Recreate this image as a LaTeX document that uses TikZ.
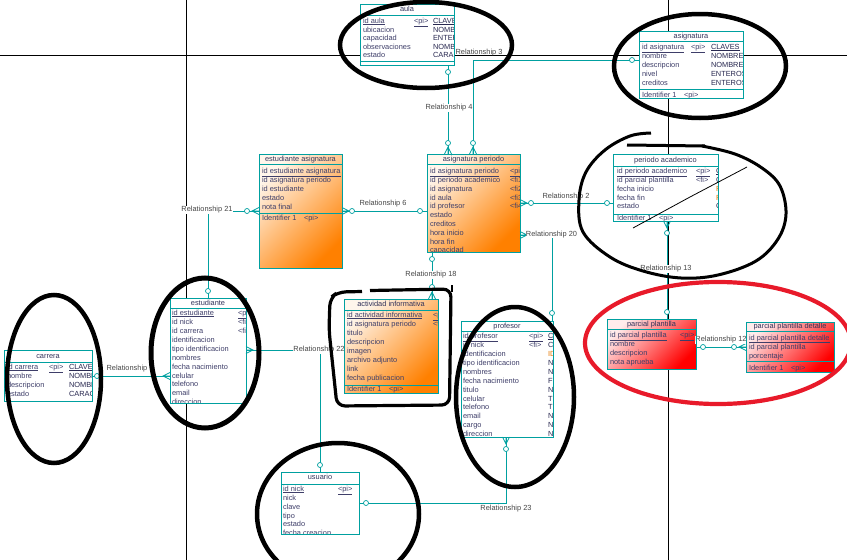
\documentclass[tikz,border=0pt]{standalone}
\usepackage{fontspec}
\newfontfamily\erfont[WordSpace=2]{Liberation Sans}
\newfontfamily\relfont{Liberation Sans}
\usetikzlibrary{calc}

\definecolor{tealline}{RGB}{0,160,160}
\definecolor{nametext}{RGB}{62,62,105}
\definecolor{typetext}{RGB}{40,40,80}
\definecolor{headtext}{RGB}{50,50,90}
\definecolor{labeltext}{RGB}{70,70,70}
\definecolor{fdate}{RGB}{230,120,0}
\definecolor{orangeA}{RGB}{255,246,236}
\definecolor{orangeB}{RGB}{255,128,0}
\definecolor{redA}{RGB}{255,236,236}
\definecolor{redB}{RGB}{255,0,0}
\definecolor{inkred}{RGB}{232,26,42}

\newcommand\erfs{\fontsize{7.4}{8.5}\selectfont}
\newcounter{tn}
% primary identifier: text with a heavy rule under it
\newcommand\pkey[1]{\vtop{\hbox{#1}\kern0.7pt\hrule height 0.9pt}}
\newcommand\erow[4][]{\stepcounter{tn}\node[cell,#1] (r\arabic{tn}) at (#2,#3) {#4};}
\newcommand\ehead[3]{\stepcounter{tn}\node[head] (h\arabic{tn}) at (#1,#2) {#3};}
\newcommand\optat[2]{\stepcounter{tn}\node[optc] (o\arabic{tn}) at (#1,#2) {};}
% crow's feet, toes on the entity edge
\newcommand\crowN[2]{\draw[rel] (#1-3.5,#2) -- (#1,#2-7) -- (#1+3.5,#2) (#1,#2-7) -- (#1,#2);}
\newcommand\crowS[2]{\draw[rel] (#1-3.5,#2) -- (#1,#2+7) -- (#1+3.5,#2) (#1,#2+7) -- (#1,#2);}
\newcommand\crowW[2]{\draw[rel] (#1,#2-3.5) -- (#1-7,#2) -- (#1,#2+3.5) (#1-7,#2) -- (#1,#2);}
\newcommand\crowE[2]{\draw[rel] (#1,#2-3.5) -- (#1+7,#2) -- (#1,#2+3.5) (#1+7,#2) -- (#1,#2);}
\newcommand\edge[1]{\draw[boxedge] (#1.north west) rectangle (#1.south east);}
\newcommand\sepline[2]{\draw[boxedge] (#1.west |- 0,#2) -- (#1.east |- 0,#2);}

\tikzset{
  boxfill/.style={anchor=north west, inner sep=0pt, outer sep=0pt, draw=none},
  boxedge/.style={draw=tealline, line width=0.9pt},
  cell/.style={anchor=base west, inner sep=0pt, outer sep=0pt, font=\erfont\erfs, text=nametext},
  typ/.style={text=typetext},
  datetyp/.style={text=fdate},
  head/.style={anchor=base, inner sep=0pt, font=\erfont\erfs, text=headtext},
  rel/.style={draw=tealline, line width=0.8pt},
  optc/.style={circle, draw=tealline, fill=white, line width=0.7pt, inner sep=0pt, minimum size=5pt},
  lab/.style={font=\relfont\erfs, text=labeltext, fill=white, inner sep=0.4pt},
  guide/.style={draw=black, line width=0.9pt},
  ink/.style={draw=black, line width=4.5pt},
  orangebox/.style={top color=orangeA, bottom color=orangeB, shading angle=45},
  redbox/.style={top color=redA, bottom color=redB, shading angle=45},
}

\begin{document}
\begin{tikzpicture}[x=1pt,y=-1pt]
\useasboundingbox (0,0) rectangle (847,560);
\clip (0,0) rectangle (847,560);
\fill[white] (0,0) rectangle (847,560);

% ---------- guide lines ----------
\draw[guide] (0,55.5) -- (847,55.5);
\draw[guide] (186.5,0) -- (186.5,560);
\draw[guide] (668,0) -- (668,560);

% ---------- relationship names placed under the boxes ----------
\node[lab, fill=none] (l3) at (479,52.5) {Relationship 3};

% ---------- entity boxes ----------
\node[boxfill, fill=white, minimum width=94pt, minimum height=61pt] (aula) at (360,4) {};
\node[boxfill, fill=white, minimum width=104pt, minimum height=67pt] (asig) at (639,31) {};
\node[boxfill, orangebox, minimum width=83pt, minimum height=114pt] (estasig) at (259,154) {};
\node[boxfill, orangebox, minimum width=93pt, minimum height=98pt] (asigper) at (427,154) {};
\node[boxfill, fill=white, minimum width=105pt, minimum height=67pt] (peracad) at (613,154) {};
\node[boxfill, fill=white, minimum width=76pt, minimum height=105pt] (est) at (170,298) {};
\node[boxfill, fill=white, minimum width=88pt, minimum height=51pt] (carr) at (4,350) {};
\node[boxfill, orangebox, minimum width=94pt, minimum height=94pt] (act) at (344,299) {};
\node[boxfill, fill=white, minimum width=92pt, minimum height=116pt] (prof) at (461,321) {};
\node[boxfill, redbox, minimum width=89pt, minimum height=50pt] (pp) at (607,319) {};
\node[boxfill, redbox, minimum width=88pt, minimum height=50pt] (ppd) at (746,322) {};
\node[boxfill, fill=white, minimum width=78pt, minimum height=62pt] (usu) at (281,472) {};

% ---------- relationships ----------
% Relationship 4
\draw[rel] (aula.south -| 448,0) -- (asigper.north -| 448,0);
\crowN{448}{154}
% Relationship 3
\draw[rel] (asig.west |- 0,60) -- (473,60) -- (asigper.north -| 473,0);
\crowN{473}{154}
% Relationship 6
\draw[rel] (estasig.east |- 0,211) -- (asigper.west |- 0,211);
\crowE{342}{211}
% Relationship 21
\draw[rel] (estasig.west |- 0,211) -- (208,211) -- (est.north -| 208,0);
\crowW{259}{211}
% Relationship 2
\draw[rel] (asigper.east |- 0,203) -- (peracad.west |- 0,203);
\crowE{520}{203}
% Relationship 20
\draw[rel] (asigper.east |- 0,235) -- (552,235) -- (prof.north -| 552,0);
\crowE{520}{235}
% Relationship 18
\draw[rel] (asigper.south -| 432,0) -- (act.north -| 432,0);
\crowN{432}{299}
% Relationship 13
\draw[rel] (peracad.south -| 667,0) -- (pp.north -| 667,0);
\crowS{667}{221}
% Relationship 12
\draw[rel] (pp.east |- 0,347) -- (ppd.west |- 0,347);
\crowW{746}{347}
% Relationship 1
\draw[rel] (carr.east |- 0,376) -- (est.west |- 0,376);
\crowW{170}{376}
% Relationship 22
\draw[rel] (est.east |- 0,350) -- (320,350) -- (usu.north -| 320,0);
\crowE{246}{350}
% Relationship 23
\draw[rel] (prof.south -| 506,0) -- (506,503) -- (usu.east |- 0,503);
\crowS{506}{437}

% relationship names
\node[lab] (l4) at (449,108) {Relationship 4};
\node[lab] (l6) at (383,203.5) {Relationship 6};
\node[lab] (l21) at (207,210) {Relationship 21};
\node[lab] (l2) at (566,197) {Relationship 2};
\node[lab] (l20) at (551.5,234.5) {Relationship 20};
\node[lab] (l18) at (431,275) {Relationship 18};
\node[lab] (l13) at (666,269) {Relationship 13};
\node[lab] (l12) at (721,340) {Relationship 12};
\node[lab] (l1) at (130,368.5) {Relationship 1};
\node[lab] (l22) at (319,350) {Relationship 22};
\node[lab] (l23) at (506,509) {Relationship 23};

% optionality circles
\optat{448}{72}\optat{448}{143}
\optat{632}{60}\optat{473}{143}
\optat{352}{211}\optat{420}{211}
\optat{247}{211}\optat{208}{291}
\optat{531}{203}\optat{607}{203}
\optat{552}{313}
\optat{432}{259}\optat{432}{287}
\optat{667}{233}\optat{667}{312}
\optat{703}{347}\optat{734}{347}
\optat{97}{376}
\optat{320}{465}
\optat{506}{449}\optat{366}{503}

% ---------- entity contents ----------
% aula
\node[boxfill, fill=white, minimum width=94pt, minimum height=61pt] (aulaB) at (360,4) {};
\begin{scope}
\clip (aula.north west) rectangle (aula.south east);
\ehead{407}{11.5}{aula}
\erow{363}{23.4}{\pkey{id aula}}\erow{414}{23.4}{\pkey{<pi>}}\erow[typ]{433}{23.4}{\pkey{CLAVE}}
\erow{363}{32.0}{ubicacion}\erow[typ]{433}{32.0}{NOMB}
\erow{363}{40.6}{capacidad}\erow[typ]{433}{40.6}{ENTER}
\erow{363}{49.2}{observaciones}\erow[typ]{433}{49.2}{NOMB}
\erow{363}{57.8}{estado}\erow[typ]{433}{57.8}{CARA}
\end{scope}
\edge{aula}\sepline{aula}{15}\sepline{aula}{61}

% asignatura
\begin{scope}
\clip (asig.north west) rectangle (asig.south east);
\ehead{691}{38.7}{asignatura}
\erow{642}{49.5}{\pkey{id asignatura}}\erow{691}{49.5}{\pkey{<pi>}}\erow[typ]{711}{49.5}{\pkey{CLAVES}}
\erow{642}{58.4}{nombre}\erow[typ]{711}{58.4}{NOMBRES}
\erow{642}{67.3}{descripcion}\erow[typ]{711}{67.3}{NOMBRES}
\erow{642}{76.2}{nivel}\erow[typ]{711}{76.2}{ENTEROS}
\erow{642}{85.1}{creditos}\erow[typ]{711}{85.1}{ENTEROS}
\erow{642}{97.4}{Identifier 1}\erow{684}{97.4}{<pi>}
\end{scope}
\edge{asig}\sepline{asig}{41}\sepline{asig}{89}

% estudiante asignatura
\begin{scope}
\clip (estasig.north west) rectangle (estasig.south east);
\ehead{300.5}{161.7}{estudiante asignatura}
\erow{262}{173.7}{\pkey{id estudiante asignatura}}
\erow{262}{182.6}{id asignatura periodo}
\erow{262}{191.5}{id estudiante}
\erow{262}{200.4}{estado}
\erow{262}{209.3}{nota final}
\erow{262}{220.7}{Identifier 1}\erow{304}{220.7}{<pi>}
\end{scope}
\edge{estasig}\sepline{estasig}{164}\sepline{estasig}{213}

% asignatura periodo
\begin{scope}
\clip (asigper.north west) rectangle (asigper.south east);
\ehead{473.5}{161.7}{asignatura periodo}
\erow{430}{173.7}{\pkey{id asignatura periodo}}\erow{510}{173.7}{\pkey{<pi>}}
\erow{430}{182.5}{id periodo academico}\erow{510}{182.5}{<fi1>}
\erow{430}{191.3}{id asignatura}\erow{510}{191.3}{<fi2>}
\erow{430}{200.1}{id aula}\erow{510}{200.1}{<fi3>}
\erow{430}{208.9}{id profesor}\erow{510}{208.9}{<fi4>}
\erow{430}{217.7}{estado}
\erow{430}{226.5}{creditos}
\erow{430}{235.3}{hora inicio}
\erow{430}{244.1}{hora fin}
\erow{430}{252.9}{capacidad}
\end{scope}
\edge{asigper}\sepline{asigper}{164}

% periodo academico
\begin{scope}
\clip (peracad.north west) rectangle (peracad.south east);
\ehead{665.5}{162.7}{periodo academico}
\erow{617}{173.7}{\pkey{id periodo academico}}\erow{696}{173.7}{\pkey{<pi>}}\erow[typ]{716}{173.7}{\pkey{CLAVES}}
\erow{617}{182.5}{id parcial plantilla}\erow{696}{182.5}{<fi>}\erow[typ]{716}{182.5}{CLAVES}
\erow{617}{191.2}{fecha inicio}\erow[datetyp]{716}{191.2}{FECHA}
\erow{617}{200.0}{fecha fin}\erow[datetyp]{716}{200.0}{FECHA}
\erow{617}{208.7}{estado}\erow[typ]{716}{208.7}{CARACTER}
\erow{617}{220.7}{Identifier 1}\erow{659}{220.7}{<pi>}
\end{scope}
\edge{peracad}\sepline{peracad}{166}\sepline{peracad}{214}

% estudiante
\begin{scope}
\clip (est.north west) rectangle (est.south east);
\ehead{208}{305.7}{estudiante}
\erow{172}{315.7}{\pkey{id estudiante}}\erow{238}{315.7}{\pkey{<pi>}}
\erow{172}{324.6}{id nick}\erow{238}{324.6}{<fi1>}
\erow{172}{333.5}{id carrera}\erow{238}{333.5}{<fi2>}
\erow{172}{342.4}{identificacion}
\erow{172}{351.3}{tipo identificacion}
\erow{172}{360.2}{nombres}
\erow{172}{369.1}{fecha nacimiento}
\erow{172}{378.0}{celular}
\erow{172}{386.9}{telefono}
\erow{172}{395.8}{email}
\erow{172}{404.7}{direccion}
\end{scope}
\edge{est}\sepline{est}{308}

% carrera
\begin{scope}
\clip (carr.north west) rectangle (carr.south east);
\ehead{48}{358.7}{carrera}
\erow{7}{369.7}{\pkey{id carrera}}\erow{49}{369.7}{\pkey{<pi>}}\erow[typ]{69}{369.7}{\pkey{CLAVES}}
\erow{7}{378.6}{nombre}\erow[typ]{69}{378.6}{NOMBRES}
\erow{7}{387.5}{descripcion}\erow[typ]{69}{387.5}{NOMBRES}
\erow{7}{396.4}{estado}\erow[typ]{69}{396.4}{CARACTER}
\end{scope}
\edge{carr}\sepline{carr}{362}

% actividad informativa
\begin{scope}
\clip (act.north west) rectangle (act.south east);
\ehead{391}{306.7}{actividad informativa}
\erow{347}{317.7}{\pkey{id actividad informativa}}\erow{433}{317.7}{\pkey{<pi>}}
\erow{347}{326.6}{id asignatura periodo}\erow{433}{326.6}{<fi>}
\erow{347}{335.5}{titulo}
\erow{347}{344.4}{descripcion}
\erow{347}{353.3}{imagen}
\erow{347}{362.2}{archivo adjunto}
\erow{347}{371.1}{link}
\erow{347}{380.0}{fecha publicacion}
\erow{347}{391.7}{Identifier 1}\erow{389}{391.7}{<pi>}
\end{scope}
\edge{act}\sepline{act}{310}\sepline{act}{385}

% profesor
\begin{scope}
\clip (prof.north west) rectangle (prof.south east);
\ehead{507}{328.7}{profesor}
\erow{463}{338.7}{\pkey{id profesor}}\erow{529}{338.7}{\pkey{<pi>}}\erow[typ]{548}{338.7}{\pkey{CLAVES}}
\erow{463}{347.6}{id nick}\erow{529}{347.6}{<fi>}\erow[typ]{548}{347.6}{CLAVES}
\erow{463}{356.5}{identificacion}\erow[datetyp]{548}{356.5}{IDENTIFICACION}
\erow{463}{365.4}{tipo identificacion}\erow[typ]{548}{365.4}{NOMBRES}
\erow{463}{374.3}{nombres}\erow[typ]{548}{374.3}{NOMBRES}
\erow{463}{383.2}{fecha nacimiento}\erow[typ]{548}{383.2}{FECHA}
\erow{463}{392.1}{titulo}\erow[typ]{548}{392.1}{NOMBRES}
\erow{463}{401.0}{celular}\erow[typ]{548}{401.0}{TELEFONO}
\erow{463}{409.9}{telefono}\erow[typ]{548}{409.9}{TELEFONO}
\erow{463}{418.8}{email}\erow[typ]{548}{418.8}{NOMBRES}
\erow{463}{427.7}{cargo}\erow[typ]{548}{427.7}{NOMBRES}
\erow{463}{436.6}{direccion}\erow[typ]{548}{436.6}{NOMBRES}
\end{scope}
\edge{prof}\sepline{prof}{331}

% parcial plantilla
\begin{scope}
\clip (pp.north west) rectangle (pp.south east);
\ehead{651.5}{326.7}{parcial plantilla}
\erow{610}{337.7}{\pkey{id parcial plantilla}}\erow{680}{337.7}{\pkey{<pi>}}
\erow{610}{346.5}{nombre}
\erow{610}{355.3}{descripcion}
\erow{610}{364.1}{nota aprueba}
\end{scope}
\edge{pp}\sepline{pp}{329}

% parcial plantilla detalle
\begin{scope}
\clip (ppd.north west) rectangle (ppd.south east);
\ehead{790}{328.5}{parcial plantilla detalle}
\erow{749}{340.0}{\pkey{id parcial plantilla detalle}}
\erow{749}{349.4}{id parcial plantilla}
\erow{749}{358.7}{porcentaje}
\erow{749}{370.0}{Identifier 1}\erow{791}{370.0}{<pi>}
\end{scope}
\edge{ppd}\sepline{ppd}{331.7}\sepline{ppd}{361.7}

% usuario
\begin{scope}
\clip (usu.north west) rectangle (usu.south east);
\ehead{320}{479.7}{usuario}
\erow{283}{491.7}{\pkey{id nick}}\erow{338}{491.7}{\pkey{<pi>}}
\erow{283}{500.5}{nick}
\erow{283}{509.3}{clave}
\erow{283}{518.1}{tipo}
\erow{283}{526.9}{estado}
\erow{283}{535.7}{fecha creacion}
\end{scope}
\edge{usu}\sepline{usu}{484}

% ---------- hand-drawn marks ----------
\draw[ink] (426,45) ellipse [x radius=86, y radius=43];
\draw[ink] (700,66) ellipse [x radius=86, y radius=52];
\draw[ink, line width=5pt] (205,353) ellipse [x radius=54, y radius=75];
\draw[ink] (54,379) ellipse [x radius=47, y radius=84];
\draw[ink] (515,397) ellipse [x radius=59, y radius=90];
\draw[ink] (338,514) ellipse [x radius=81, y radius=71];
\draw[ink, draw=inkred, line width=4.2pt] (718,343) ellipse [x radius=133, y radius=61];
\draw[ink, line width=3pt] plot[smooth, tension=0.6] coordinates {(651,133) (630,136) (605,150) (586,172) (579,200) (583,232) (610,257) (643,271) (681,278) (718,275) (756,261) (778,239) (786,214) (780,186) (762,168) (735,154) (702,146)};
\draw[ink, line width=3pt] (627,145) -- (705,146);
\draw[black, line width=0.8pt] (633,228) -- (690,197) -- (747,167);
\draw[ink, line width=3.2pt, rounded corners=8pt] (370,290.5) -- (451,289) -- (449.5,405) -- (337,406) -- (329,330) -- (330,298) -- (338,292) -- (362,291.5);
\draw[ink, line width=2.5pt] (452,285) -- (452,292);
\end{tikzpicture}
\end{document}
